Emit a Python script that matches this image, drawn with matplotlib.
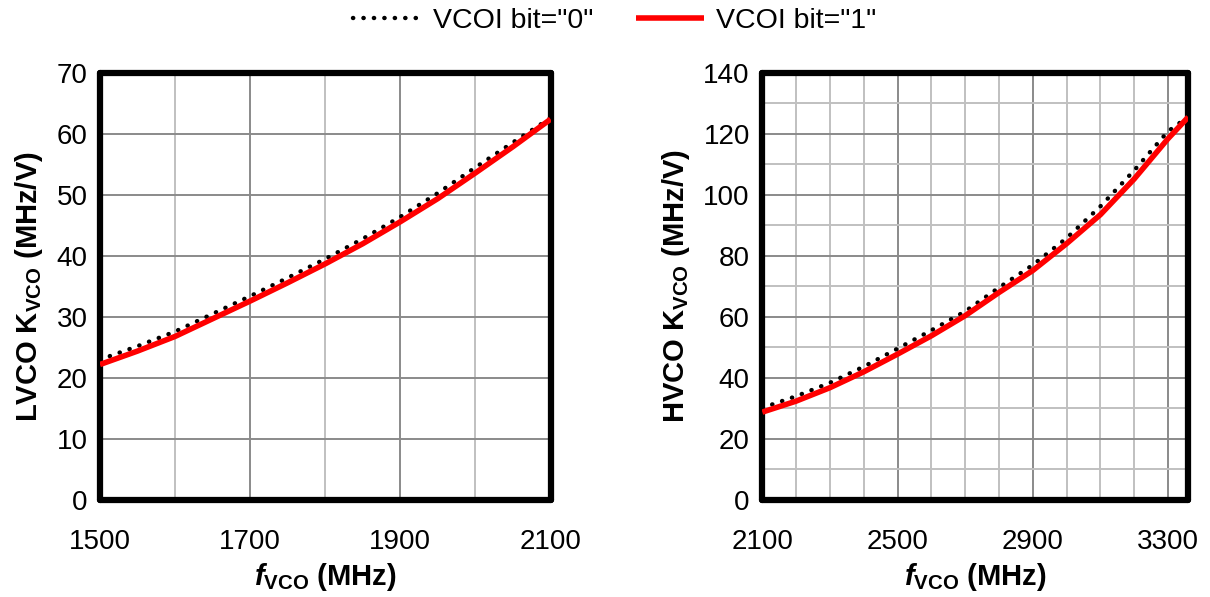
import matplotlib
matplotlib.use("Agg")
import matplotlib.pyplot as plt
from matplotlib.ticker import FixedLocator

plt.rcParams["font.family"] = ["Liberation Sans", "DejaVu Sans"]
plt.rcParams["mathtext.fontset"] = "custom"
plt.rcParams["mathtext.rm"] = "Liberation Sans:bold"
plt.rcParams["mathtext.it"] = "Liberation Sans:bold:italic"
plt.rcParams["mathtext.bf"] = "Liberation Sans:bold"

# LVCO panel (MHz, MHz/V)
lvco_f = [1500, 1550, 1600, 1650, 1700, 1750, 1800, 1850, 1900, 1950, 2000, 2050, 2100]
lvco_k0 = [23.0, 25.2, 27.6, 30.5, 33.4, 36.4, 39.5, 42.8, 46.4, 50.3, 54.5, 58.6, 62.6]
lvco_k1 = [22.2, 24.4, 26.8, 29.7, 32.6, 35.6, 38.7, 42.0, 45.6, 49.4, 53.6, 57.9, 62.4]

# HVCO panel (MHz, MHz/V)
hvco_f0 = [2100, 2200, 2300, 2400, 2500, 2600, 2700, 2800, 2900, 3000, 3100, 3200, 3300, 3340]
hvco_k0 = [30.2, 34.0, 38.4, 43.7, 49.6, 55.6, 61.8, 69.6, 77.0, 85.8, 96.2, 108.0, 120.8, 124.0]
hvco_f1 = [2100, 2200, 2300, 2400, 2500, 2600, 2700, 2800, 2900, 3000, 3100, 3200, 3300, 3360]
hvco_k1 = [28.8, 32.4, 36.8, 42.0, 47.8, 53.8, 60.4, 68.0, 75.2, 84.0, 93.5, 105.2, 118.4, 125.5]

labels = ['VCOI bit="0"', 'VCOI bit="1"']

lvco_xticks = [1500, 1700, 1900, 2100]
lvco_xgrid = [1600, 1800, 2000]
lvco_yticks = [0, 10, 20, 30, 40, 50, 60, 70]
hvco_xticks = [2100, 2500, 2900, 3300]
hvco_xgrid = [2200, 2300, 2400, 2600, 2700, 2800, 3000, 3100, 3200]
hvco_yticks = [0, 20, 40, 60, 80, 100, 120, 140]
hvco_ygrid = [10, 30, 50, 70, 90, 110, 130]

fig = plt.figure(figsize=(12.1, 5.97), dpi=100)
ax1 = fig.add_axes([0.0826, 0.1625, 0.3724, 0.7155])
ax2 = fig.add_axes([0.630, 0.1625, 0.352, 0.7155])


def style(ax, xlim, ylim, xt, xg, yt, yg):
    ax.set_xlim(*xlim)
    ax.set_ylim(*ylim)
    ax.xaxis.set_major_locator(FixedLocator(xt))
    ax.xaxis.set_minor_locator(FixedLocator(xg))
    ax.yaxis.set_major_locator(FixedLocator(yt))
    ax.yaxis.set_minor_locator(FixedLocator(yg))
    ax.grid(which="major", color="#8a8a8a", lw=1.4)
    ax.grid(which="minor", color="#c0c0c0", lw=1.4)
    ax.set_axisbelow(True)
    for s in ax.spines.values():
        s.set_linewidth(4.5)
        s.set_color("black")
        s.set_capstyle("round")
    ax.tick_params(which="both", length=0, labelsize=20)
    ax.tick_params(axis="x", pad=21)
    ax.tick_params(axis="y", pad=9)
    ax.set_xlabel(r"$\mathit{f}_{\mathrm{VCO}}$ (MHz)", fontsize=21, fontweight="bold", labelpad=4)


d1, = ax1.plot(lvco_f, lvco_k0, color="black", lw=3.2, linestyle=(0, (0.05, 2.3)),
               dash_capstyle="round", zorder=3)
r1, = ax1.plot(lvco_f, lvco_k1, color="#ff0000", lw=4.0, solid_capstyle="butt", zorder=4)
style(ax1, (1500, 2100), (0, 70), lvco_xticks, lvco_xgrid, lvco_yticks, [])
ax1.set_ylabel(r"LVCO K$_{\mathrm{VCO}}$ (MHz/V)", fontsize=21, fontweight="bold", labelpad=8)

ax2.plot(hvco_f0, hvco_k0, color="black", lw=3.2, linestyle=(0, (0.05, 2.3)),
         dash_capstyle="round", zorder=3)
ax2.plot(hvco_f1, hvco_k1, color="#ff0000", lw=4.0, solid_capstyle="butt", zorder=4)
style(ax2, (2100, 3360), (0, 140), hvco_xticks, hvco_xgrid, hvco_yticks, hvco_ygrid)
ax2.set_ylabel(r"HVCO K$_{\mathrm{VCO}}$ (MHz/V)", fontsize=21, fontweight="bold", labelpad=8)

fig.legend([d1, r1], labels, loc="upper center", bbox_to_anchor=(0.508, 1.03), ncol=2,
           frameon=False, fontsize=20.5, handlelength=2.4, columnspacing=1.5, handletextpad=0.4)

fig.savefig("out.png", dpi=100)
